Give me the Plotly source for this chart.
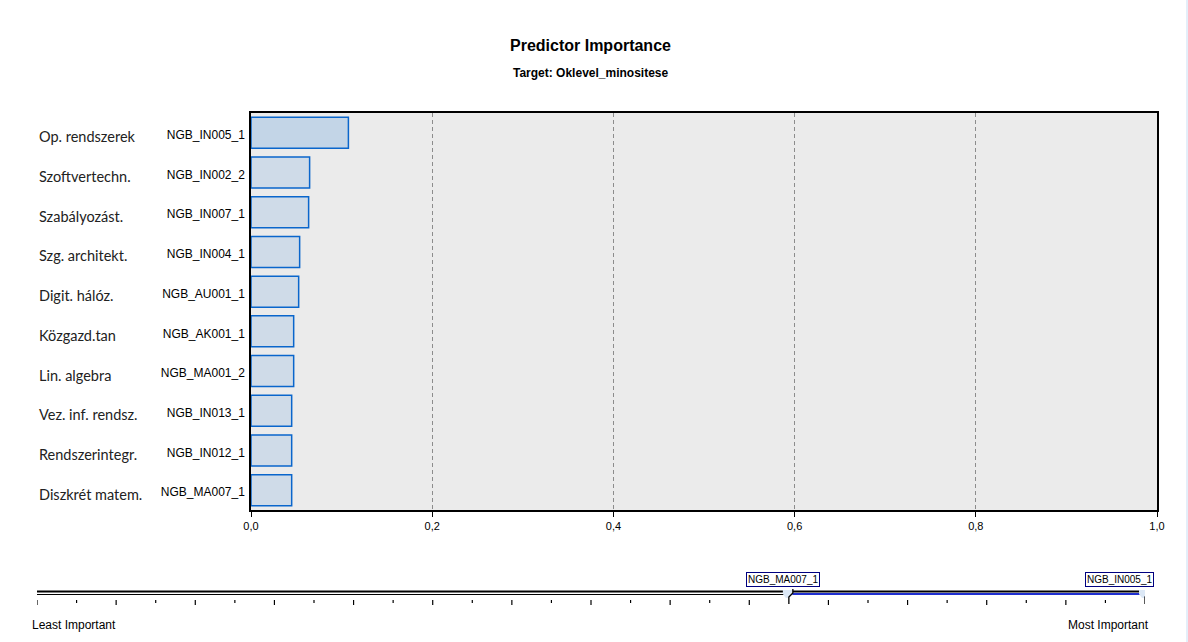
import plotly.graph_objects as go

# ---- data ----
codes = ["NGB_IN005_1", "NGB_IN002_2", "NGB_IN007_1", "NGB_IN004_1", "NGB_AU001_1",
         "NGB_AK001_1", "NGB_MA001_2", "NGB_IN013_1", "NGB_IN012_1", "NGB_MA007_1"]
names = ["Op. rendszerek", "Szoftvertechn.", "Szabályozást.", "Szg. architekt.", "Digit. hálóz.",
         "Közgazd.tan", "Lin. algebra", "Vez. inf. rendsz.", "Rendszerintegr.", "Diszkrét matem."]
importance = [0.1075, 0.0647, 0.0636, 0.0537, 0.0526, 0.0471, 0.0471, 0.0449, 0.0449, 0.0449]
x_ticks = [0.0, 0.2, 0.4, 0.6, 0.8, 1.0]
n_predictors = 29          # positions on the importance slider
shown_from = 19            # slider index of least important shown predictor
shown_to = 28              # slider index of most important predictor

W, H = 1188, 642
ML, MR, MT, MB = 30, 30, 20, 20
PW, PH = W - ML - MR, H - MT - MB

def px_x(p):  # pixel -> paper x
    return (p - ML) / PW

def px_y(p):  # pixel -> paper y
    return (H - MB - p) / PH

bar_colors = ["#c3d5e7"] + ["#cfdbe8"] * (len(codes) - 1)

fig = go.Figure()
fig.add_trace(go.Bar(
    x=importance, y=codes, orientation="h",
    marker=dict(color=bar_colors, line=dict(color="#0a66cc", width=1.5)),
    hoverinfo="x+y", showlegend=False,
))

# invisible trace for slider axes
fig.add_trace(go.Scatter(x=[0, n_predictors - 1], y=[600, 600], xaxis="x2", yaxis="y2",
                         mode="markers", marker=dict(opacity=0), hoverinfo="skip", showlegend=False))

shapes = []
annotations = []

# white background for the slider strip
shapes.append(dict(type="rect", xref="x2 domain", yref="y2 domain", x0=-0.01, x1=1.01, y0=-0.05, y1=1.05,
                   fillcolor="white", line=dict(width=0), layer="below"))

# left course names
for c, nm in zip(codes, names):
    annotations.append(dict(x=px_x(37), xref="paper", xanchor="left", y=c, yref="y", yshift=-4,
                            text=nm, showarrow=False,
                            font=dict(family="Lato", size=14.5, color="#222222")))

# titles
annotations.append(dict(x=px_x(590.5), y=px_y(45), xref="paper", yref="paper", yanchor="middle",
                        text="<b>Predictor Importance</b>",
                        showarrow=False, font=dict(family="Liberation Sans, Arial", size=16, color="black")))
annotations.append(dict(x=px_x(590.5), y=px_y(73), xref="paper", yref="paper", yanchor="middle",
                        text="<b>Target: Oklevel_minositese</b>",
                        showarrow=False, font=dict(family="Liberation Sans, Arial", size=12, color="black")))

# slider
unit = (1145 - 37) / (n_predictors - 1)
def dx(p):
    return p / unit

shapes.append(dict(type="line", xref="x2", yref="y2", x0=0, x1=shown_from, y0=591.5, y1=591.5,
                   line=dict(color="black", width=2)))
shapes.append(dict(type="line", xref="x2", yref="y2", x0=0, x1=shown_from, y0=594.5, y1=594.5,
                   line=dict(color="black", width=1)))
shapes.append(dict(type="line", xref="x2", yref="y2", x0=shown_from, x1=shown_to, y0=591.5, y1=591.5,
                   line=dict(color="black", width=2)))
shapes.append(dict(type="line", xref="x2", yref="y2", x0=shown_from, x1=shown_to, y0=594, y1=594,
                   line=dict(color="#1f2fd0", width=2)))
for i in range(n_predictors):
    if i in (shown_from, shown_to):
        continue
    ln = 5 if i % 2 == 0 else 3
    shapes.append(dict(type="line", xref="x2", yref="y2", x0=i, x1=i, y0=600, y1=600 + ln,
                       line=dict(color="black", width=1.2)))
for h in (shown_from, shown_to):
    path = (f"M {h - dx(6)},590 L {h + dx(4)},590 L {h + dx(4)},594 L {h},598 L {h - dx(3)},598 "
            f"L {h - dx(6)},594 Z")
    shapes.append(dict(type="path", xref="x2", yref="y2", path=path,
                       fillcolor="#dce8f6", line=dict(width=0)))
    path2 = f"M {h + dx(4)},589 L {h + dx(4)},593 L {h},597 L {h},604"
    shapes.append(dict(type="path", xref="x2", yref="y2", path=path2,
                       line=dict(color="black", width=1.3)))

annotations.append(dict(x=shown_from, xref="x2", y=579.5, yref="y2", text=codes[-1], showarrow=False,
                        xshift=-6, font=dict(family="Liberation Sans, Arial", size=10, color="black"),
                        bgcolor="white", bordercolor="#000080", borderwidth=1, borderpad=1))
annotations.append(dict(x=shown_to, xref="x2", y=579.5, yref="y2", text=codes[0], showarrow=False,
                        xanchor="right", xshift=9, font=dict(family="Liberation Sans, Arial", size=10, color="black"),
                        bgcolor="white", bordercolor="#000080", borderwidth=1, borderpad=1))
annotations.append(dict(x=px_x(30), y=px_y(625), xref="paper", yref="paper", xanchor="left", yanchor="middle",
                        text="Least Important",
                        showarrow=False, font=dict(family="Liberation Sans, Arial", size=12, color="black")))
annotations.append(dict(x=px_x(1151), y=px_y(625), xref="paper", yref="paper", xanchor="right", yanchor="middle",
                        text="Most Important",
                        showarrow=False, font=dict(family="Liberation Sans, Arial", size=12, color="black")))

# right window-edge strip
shapes.append(dict(type="rect", xref="paper", yref="paper", x0=px_x(1186), x1=px_x(1190), y0=px_y(650), y1=px_y(-10),
                   fillcolor="#e4eef9", line=dict(width=0), layer="below"))

fig.update_layout(
    width=W, height=H, margin=dict(l=ML, r=MR, t=MT, b=MB),
    paper_bgcolor="white", plot_bgcolor="#ebebeb",
    separators=", ", bargap=0.22,
    font=dict(family="Liberation Sans, Arial", size=11, color="black"),
    xaxis=dict(domain=[px_x(251), px_x(1157)], range=[0, 1], tickvals=x_ticks, tickformat=".1f",
               showgrid=True, gridcolor="#8c8c8c", griddash="4px,3px", gridwidth=1,
               showline=True, linecolor="black", linewidth=1.5, mirror=True,
               ticks="outside", ticklen=5, tickcolor="black", zeroline=False,
               tickfont=dict(size=11, family="Liberation Sans, Arial")),
    yaxis=dict(domain=[px_y(510), px_y(113)], autorange="reversed", showgrid=False,
               showline=True, linecolor="black", linewidth=1.5, mirror=True,
               ticks="", ticklabelstandoff=2, ticklabelshift=-2,
               tickfont=dict(size=12, family="Liberation Sans, Arial")),
    xaxis2=dict(domain=[px_x(37), px_x(1145)], range=[0, n_predictors - 1], visible=False, anchor="y2"),
    yaxis2=dict(domain=[px_y(612), px_y(570)], range=[612, 570], visible=False, anchor="x2"),
    shapes=shapes, annotations=annotations,
)

fig.write_html("out.html")
